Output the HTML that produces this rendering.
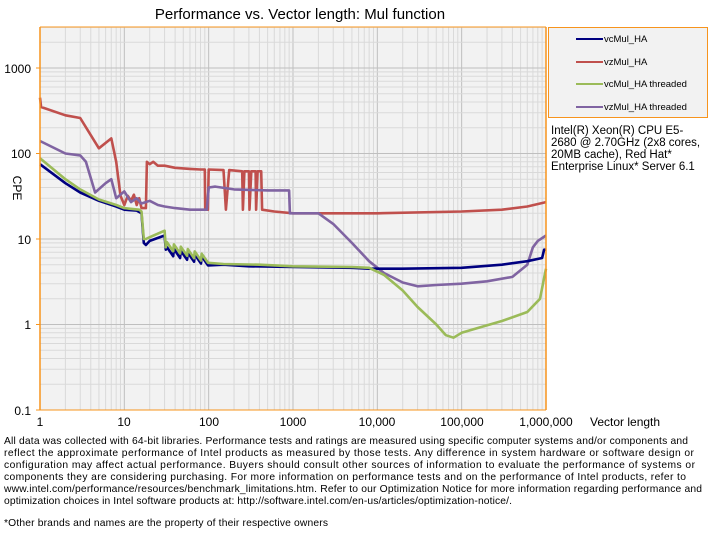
<!DOCTYPE html>
<html><head><meta charset="utf-8"><style>
body{margin:0;background:#fff;width:712px;height:546px;overflow:hidden;font-family:"Liberation Sans",sans-serif}
</style></head><body>
<svg id="s" width="712" height="546" xmlns="http://www.w3.org/2000/svg" font-family="Liberation Sans, sans-serif">
<text x="300" y="19" font-size="15" text-anchor="middle">Performance vs. Vector length: Mul function</text>
<rect x="40" y="27" width="506" height="383" fill="#f2f2f2"/>
<g id="grid"></g>
<g id="series" fill="none" stroke-width="2.6" stroke-linejoin="round"></g>
<line x1="40" y1="27" x2="40" y2="410" stroke="#f7941d" stroke-width="1.5"/>
<line x1="546" y1="27" x2="546" y2="410" stroke="#f7941d" stroke-width="1.5"/>
<line x1="40" y1="27" x2="546" y2="27" stroke="#f7941d" stroke-width="1"/>
<line x1="40" y1="410" x2="546" y2="410" stroke="#f7941d" stroke-width="1"/>
<g font-size="12" text-anchor="end">
<text x="31" y="73">1000</text><text x="31" y="158">100</text><text x="31" y="244">10</text><text x="31" y="329">1</text><text x="31" y="415">0.1</text>
</g>
<text x="13" y="188" font-size="12" transform="rotate(90 13 188)" text-anchor="middle">CPE</text>
<g font-size="12" text-anchor="middle">
<text x="40" y="426">1</text><text x="124" y="426">10</text><text x="209" y="426">100</text><text x="293" y="426">1000</text><text x="377" y="426">10,000</text><text x="462" y="426">100,000</text><text x="546" y="426">1,000,000</text>
</g>
<text x="590" y="426" font-size="12" text-anchor="start">Vector length</text>
<rect x="548.5" y="27.5" width="159" height="90" fill="#f2f2f2" stroke="#f7941d"/>
<g font-size="9.5">
<line x1="576" y1="39" x2="603" y2="39" stroke="#000080" stroke-width="2"/><text x="604" y="42">vcMul_HA</text>
<line x1="576" y1="62" x2="603" y2="62" stroke="#c0504d" stroke-width="2"/><text x="604" y="65">vzMul_HA</text>
<line x1="576" y1="84" x2="603" y2="84" stroke="#9bbb59" stroke-width="2"/><text x="604" y="87">vcMul_HA threaded</text>
<line x1="576" y1="107" x2="603" y2="107" stroke="#8064a2" stroke-width="2"/><text x="604" y="110">vzMul_HA threaded</text>
</g>
<g font-size="11.5">
<text x="551" y="134">Intel(R) Xeon(R) CPU E5-</text>
<text x="551" y="146">2680 @ 2.70GHz (2x8 cores,</text>
<text x="551" y="158">20MB cache), Red Hat*</text>
<text x="551" y="170">Enterprise Linux* Server 6.1</text>
</g>
<g font-size="10.3" lengthAdjust="spacingAndGlyphs">
<text x="4" y="444" textLength="684">All data was collected with 64-bit libraries. Performance tests and ratings are measured  using specific computer systems and/or components  and</text>
<text x="4" y="456" textLength="690">reflect the approximate  performance of Intel products as measured by those tests.  Any difference in system hardware or software design or</text>
<text x="4" y="468" textLength="691">configuration may affect actual performance. Buyers should consult other sources of information to evaluate  the performance of systems or</text>
<text x="4" y="480" textLength="682">components they are considering purchasing. For more information on performance tests and on the performance of Intel products, refer to</text>
<text x="4" y="492" textLength="698">www.intel.com/performance/resources/benchmark_limitations.htm.  Refer to our Optimization  Notice for more information regarding performance and</text>
<text x="4" y="504" textLength="508">optimization  choices in Intel software products at: http://software.intel.com/en-us/articles/optimization-notice/.</text>
<text x="4" y="526" textLength="324">*Other brands and names are the property of their respective owners</text>
</g>
</svg>
<script>
var NS="http://www.w3.org/2000/svg";
function X(n){return 40+Math.log10(n)*84.33;}
function Y(v){return 410-(Math.log10(v)+1)*85.5;}
var g=document.getElementById("grid"),h="";
for(var d=0;d<6;d++)for(var k=1;k<10;k++){var x=X(k*Math.pow(10,d));h+='<line x1="'+x+'" y1="27" x2="'+x+'" y2="410" stroke="'+(k==1?"#bfbfbf":"#d9d9d9")+'" stroke-width="1"/>';}
for(var d=-1;d<4;d++)for(var k=1;k<10;k++){var y=Y(k*Math.pow(10,d));if(y<27)continue;h+='<line x1="40" y1="'+y+'" x2="546" y2="'+y+'" stroke="'+(k==1?"#bfbfbf":"#d9d9d9")+'" stroke-width="1"/>';}
for(var d=-1;d<4;d++){var y=Y(Math.pow(10,d));h+='<line x1="36" y1="'+y+'" x2="40" y2="'+y+'" stroke="#f7941d"/>';}
g.innerHTML=h;
function saw(a,b,v1,v2,n){var p=[];for(var i=0;i<n;i++){var t=a*Math.pow(b/a,i/n),t2=a*Math.pow(b/a,(i+0.9)/n);var v=v1*Math.pow(v2/v1,i/n);p.push([t,v*1.15],[t2,v*0.9]);}return p;}
var blue=[[1,75],[2,45],[3,35],[5,28],[8,24],[10,22],[14,21.5],[16,20],[17,9],[18,8.5],[20,9.5],[30,11],[31,7.5]].concat(saw(32,100,7,5.2,6),[[150,5],[300,4.8],[1000,4.7],[5000,4.6],[8000,4.5],[20000,4.5],[100000,4.6],[300000,5],[600000,5.5],[900000,6],[950000,7.5],[1000000,7.5]]);
var green=[[1,88],[2,50],[3,38],[5,29],[8,25],[10,23],[15,22],[16,21],[17,10],[18,10],[20,10.5],[30,12.5],[31,8]].concat(saw(32,100,8,5.5,6),[[150,5.1],[400,5],[1000,4.8],[5000,4.7],[8000,4.6],[12000,3.8],[20000,2.5],[30000,1.6],[50000,1],[65000,0.75],[80000,0.7],[100000,0.8],[150000,0.9],[300000,1.1],[600000,1.4],[850000,2],[950000,3.5],[1000000,4.5]]);
var red=[[1,450],[1.03,350],[2,280],[3,260],[5,115],[7,150],[8,80],[9,32],[10,25],[11,32],[12,28],[13,33],[14,25],[15,30],[16,23],[18,23],[18.5,80],[20,75],[22,80],[25,72],[30,72],[40,68],[60,66],[80,65],[90,65],[91,22],[98,22],[100,65],[150,64],[160,22],[175,64],[250,62],[255,22],[265,62],[300,62],[305,22],[320,62],[360,62],[365,22],[380,62],[420,62],[430,22],[600,21],[1000,20],[10000,20],[100000,21],[300000,22],[600000,24],[1000000,27]];
var purple=[[1,140],[2,100],[3,95],[3.5,80],[4.5,35],[6,45],[7,50],[8,30],[10,36],[12,27],[14,30],[16,26],[20,28],[25,25],[30,24],[40,23],[60,22],[95,22],[100,40],[120,41],[200,38],[500,37],[900,37],[920,20],[2000,20],[3000,15],[5000,9],[8000,5.5],[12000,4],[20000,3.1],[30000,2.8],[50000,2.9],[100000,3],[200000,3.2],[400000,3.6],[600000,5],[700000,8],[800000,9.5],[1000000,11]];
function line(pts,c){var d="";pts.forEach(function(p,i){d+=(i?"L":"M")+X(p[0]).toFixed(1)+","+Y(p[1]).toFixed(1);});var e=document.createElementNS(NS,"path");e.setAttribute("d",d);e.setAttribute("stroke",c);document.getElementById("series").appendChild(e);}
line(red,"#c0504d");line(purple,"#8064a2");line(blue,"#000080");line(green,"#9bbb59");
</script>
</body></html>
